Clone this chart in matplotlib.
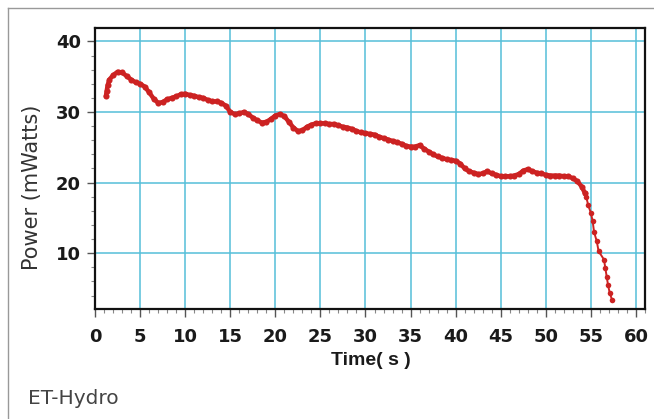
import matplotlib
matplotlib.use("Agg")
import matplotlib.pyplot as plt
from matplotlib.ticker import MultipleLocator
from matplotlib.lines import Line2D

# ---- data ----
time_s = [1.2, 1.3, 1.4, 1.6, 2.0, 2.5, 3.0, 3.5, 4.0, 4.5, 5.0, 5.5, 6.0, 6.5, 7.0,
          7.5, 8.0, 8.5, 9.0, 9.5, 10.0, 10.5, 11.0, 11.5, 12.0, 12.5, 13.0, 13.5,
          14.0, 14.5, 15.0, 15.5, 16.0, 16.5, 17.0, 17.5, 18.0, 18.5, 19.0, 19.5,
          20.0, 20.5, 21.0, 21.5, 22.0, 22.5, 23.0, 23.5, 24.0, 24.5, 25.0, 25.5,
          26.0, 26.5, 27.0, 27.5, 28.0, 28.5, 29.0, 29.5, 30.0, 30.5, 31.0, 31.5,
          32.0, 32.5, 33.0, 33.5, 34.0, 34.5, 35.0, 35.5, 36.0, 36.5, 37.0, 37.5,
          38.0, 38.5, 39.0, 39.5, 40.0, 40.5, 41.0, 41.5, 42.0, 42.5, 43.0, 43.5,
          44.0, 44.5, 45.0, 45.5, 46.0, 46.5, 47.0, 47.5, 48.0, 48.5, 49.0, 49.5,
          50.0, 50.5, 51.0, 51.5, 52.0, 52.5, 53.0, 53.5, 54.0, 54.3, 54.5, 54.7,
          55.0, 55.2, 55.35, 55.65, 55.85, 56.45, 56.6, 56.75, 56.9, 57.1, 57.35]
power_mw = [32.2, 33.0, 33.8, 34.6, 35.2, 35.7, 35.6, 35.1, 34.6, 34.2, 34.0, 33.6, 32.8,
            31.9, 31.3, 31.4, 31.8, 32.0, 32.2, 32.5, 32.6, 32.4, 32.3, 32.1, 32.0,
            31.7, 31.5, 31.5, 31.3, 30.9, 30.0, 29.7, 29.8, 30.0, 29.7, 29.2, 28.8,
            28.5, 28.6, 29.0, 29.5, 29.7, 29.4, 28.6, 27.8, 27.3, 27.4, 27.9, 28.2,
            28.4, 28.4, 28.4, 28.3, 28.3, 28.1, 27.9, 27.8, 27.6, 27.3, 27.1, 27.0,
            26.9, 26.8, 26.5, 26.3, 26.1, 25.9, 25.7, 25.5, 25.2, 25.1, 25.1, 25.3,
            24.8, 24.4, 24.0, 23.7, 23.5, 23.3, 23.2, 23.1, 22.7, 22.0, 21.6, 21.4,
            21.2, 21.3, 21.6, 21.3, 21.1, 20.9, 20.9, 20.9, 21.0, 21.2, 21.7, 21.9,
            21.6, 21.4, 21.3, 21.1, 21.0, 21.0, 21.0, 20.9, 20.9, 20.6, 20.2, 19.4,
            18.6, 17.9, 16.8, 15.7, 14.5, 13.0, 11.7, 10.3, 9.1, 7.9, 6.7, 5.5, 4.3, 3.4]

x_major = [0, 5, 10, 15, 20, 25, 30, 35, 40, 45, 50, 55, 60]
y_major = [10, 20, 30, 40]
n_dense = 110  # samples before the final drop (plotted as a dense band)

RED = "#cc2222"
GRID = "#55bfd8"

fig = plt.figure(figsize=(6.54, 4.19), dpi=100)
ax = fig.add_axes([95/654, 1 - 309/419, (645 - 95)/654, (309 - 28)/419])

ax.plot(time_s[:n_dense], power_mw[:n_dense], color=RED, lw=3.2, marker="o",
        markersize=4.4, markeredgewidth=0, solid_joinstyle="round",
        solid_capstyle="round", zorder=3)
ax.plot(time_s[n_dense - 1:], power_mw[n_dense - 1:], color=RED, lw=1.4, marker="o",
        markersize=4.0, markeredgewidth=0, zorder=3)

ax.set_xlim(0, 61)
ax.set_ylim(2.1, 41.9)
ax.set_xticks(x_major)
ax.set_yticks(y_major)
ax.xaxis.set_minor_locator(MultipleLocator(1))
ax.yaxis.set_minor_locator(MultipleLocator(2))
ax.grid(True, which="major", color=GRID, lw=1.1)
ax.set_axisbelow(True)

for s in ax.spines.values():
    s.set_linewidth(1.6)
    s.set_color("#111111")

ax.tick_params(axis="both", which="major", direction="out", length=6, width=1,
               color="#555555")
ax.tick_params(axis="both", which="minor", direction="out", length=3, width=0.8,
               color="#888888")
ax.tick_params(axis="x", which="major", pad=8)
ax.tick_params(axis="y", which="major", pad=4)
for lab in ax.get_xticklabels() + ax.get_yticklabels():
    lab.set_fontfamily("DejaVu Sans")
    lab.set_fontweight("bold")
    lab.set_fontsize(13)
    lab.set_color("#1a1a1a")

fig.text(31.7/654, 1 - 187.5/419, "Power (mWatts)", rotation=90, ha="center",
         va="center", fontsize=15, family="DejaVu Sans", color="#333333")
fig.text(371/654, 1 - 360/419, "Time( s )", ha="center", va="center",
         fontsize=14, family="Liberation Sans", fontweight="bold", color="#1a1a1a")
fig.text(28/654, 1 - 398/419, "ET-Hydro", ha="left", va="center",
         fontsize=14.5, family="DejaVu Sans", color="#444444")

# outer frame lines (top and left)
fig.add_artist(Line2D([8/654, 1.0], [1 - 8/419, 1 - 8/419], transform=fig.transFigure,
                      color="#999999", lw=1))
fig.add_artist(Line2D([8/654, 8/654], [0, 1 - 8/419], transform=fig.transFigure,
                      color="#999999", lw=1))

fig.savefig("out.png", dpi=100)
